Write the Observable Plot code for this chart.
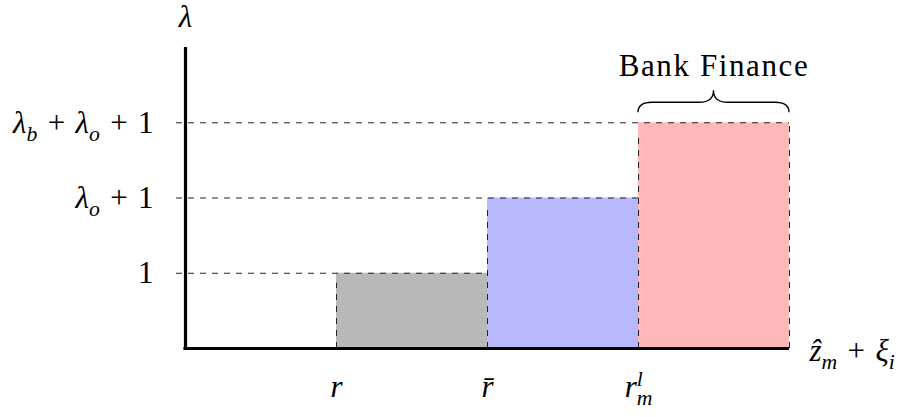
<!DOCTYPE html>
<html><head><meta charset="utf-8">
<script src="https://cdn.jsdelivr.net/npm/d3@7"></script>
<script src="https://cdn.jsdelivr.net/npm/@observablehq/plot@0.6"></script>
<style>body{margin:0;background:#fff}</style>
</head><body><div id="chart"></div>
<script>
// ---- data ----
const edges = [1, 2, 3, 4];                       // r, r̄, r_m^l, end of last bar
const xTickLabels = ["r", "r\u0304", "r_{m}^{l}"];
const levels = [1, 2, 3];
const levelLabels = ["1", "λ_{o}\u2004+\u20041", "λ_{b}\u2004+\u2004λ_{o}\u2004+\u20041"];
const barColors = ["#b8b8b8", "#b8b8ff", "#ffb8b8"];
const yAxisLabel = "λ";
const xAxisLabel = "\u1E91_{m}\u2004+\u2004ξ_{i}";
const braceLabel = "Bank Finance";
const braceSpan = [3, 4];

const FS = 31;
const FF = "Liberation Serif";
const bars = levels.map((v, i) => ({x1: edges[i], x2: edges[i + 1], y: v, fill: barColors[i], label: xTickLabels[i]}));
const last = bars[bars.length - 1];
const dash = "6,6";
const dashColor = "#222";
const txt = {fontSize: FS, fontFamily: FF};

const braceMark = (index, scales) => {
  const x0 = scales.x(braceSpan[0]), x1 = scales.x(braceSpan[1]);
  const yb = scales.y(d3.max(levels)) - 10, yh = yb - 10, yt = yh - 12;
  const m = (x0 + x1) / 2, r = 14;
  const p = `M${x0},${yb} Q${x0},${yh} ${x0 + r},${yh} L${m - r},${yh} Q${m},${yh} ${m},${yt} Q${m},${yh} ${m + r},${yh} L${x1 - r},${yh} Q${x1},${yh} ${x1},${yb}`;
  const g = d3.create("svg:g");
  g.append("path").attr("d", p).attr("fill", "none").attr("stroke", "#000").attr("stroke-width", 1.3);
  return g.node();
};

const plot = Plot.plot({
  width: 904, height: 417,
  marginLeft: 185, marginRight: 115, marginTop: 47, marginBottom: 69,
  style: {fontFamily: FF, fontSize: FS + "px", background: "#fff"},
  x: {domain: [0, 4], axis: null},
  y: {domain: [0, 4], axis: null},
  marks: [
    Plot.rect(bars, {x1: "x1", x2: "x2", y1: 0, y2: "y", fill: d => d.fill}),
    Plot.ruleY(bars, {y: "y", x1: 0, x2: "x2", stroke: dashColor, strokeWidth: 1, strokeDasharray: dash, insetLeft: -9}),
    Plot.ruleX(bars, {x: "x1", y1: 0, y2: "y", stroke: dashColor, strokeWidth: 1, strokeDasharray: dash, insetBottom: -10}),
    Plot.ruleX([last], {x: "x2", y1: 0, y2: "y", stroke: dashColor, strokeWidth: 1, strokeDasharray: dash}),
    Plot.ruleX([0], {y1: 0, y2: 4, stroke: "#000", strokeWidth: 3.2}),
    Plot.ruleY([0], {x1: 0, x2: 4, stroke: "#000", strokeWidth: 3.2, insetLeft: -1.6}),
    Plot.text(levels, {x: 0, y: d => d, text: (d, i) => levelLabels[i], textAnchor: "end", dx: -32, ...txt}),
    Plot.text(bars, {x: "x1", y: 0, text: "label", dy: 39, ...txt}),
    Plot.text([yAxisLabel], {x: 0, y: 4, text: d => d, dy: -30, ...txt}),
    Plot.text([xAxisLabel], {x: 4, y: 0, text: d => d, textAnchor: "start", dx: 20, dy: 3, ...txt}),
    braceMark,
    Plot.text([braceLabel], {x: (braceSpan[0] + braceSpan[1]) / 2, y: d3.max(levels), text: d => d, dy: -57, ...txt})
  ]
});
document.getElementById("chart").appendChild(plot);

// ---- math-style formatting of labels (italic letters, sub/superscripts) ----
const isLetter = c => /[A-Za-zλξ\u1E91\u0300-\u036f]/.test(c);
function runs(s) {
  const out = []; let cur = "", curL = null;
  for (const c of s) {
    const l = isLetter(c);
    if (curL === null || l === curL) { cur += c; curL = l; }
    else { out.push([cur, curL]); cur = c; curL = l; }
  }
  if (cur) out.push([cur, curL]);
  return out;
}
plot.querySelectorAll("text").forEach(t => {
  t.style.fontFamily = FF;
  const s = t.textContent;
  if (s === braceLabel) { t.style.letterSpacing = "1.6px"; return; }
  const tokens = [...s.matchAll(/([_^])\{([^}]*)\}|([^_^]+)/g)];
  t.textContent = "";
  let shift = 0, prev = null, prevType = null;
  for (const tk of tokens) {
    if (tk[3]) {
      let first = true;
      for (const [str, l] of runs(tk[3])) {
        const ts = d3.select(t).append("tspan").text(str);
        if (l) ts.attr("font-style", "italic");
        if (first && shift) ts.attr("dy", -shift);
        first = false;
      }
      shift = 0; prevType = "n";
    } else {
      const type = tk[1];
      const target = type === "_" ? 0.26 * FS : -0.36 * FS;
      const ts = d3.select(t).append("tspan").text(tk[2]).attr("font-style", "italic").attr("font-size", 0.7 * FS);
      if (target - shift) ts.attr("dy", target - shift);
      if ((prevType === "_" || prevType === "^") && prevType !== type && prev) {
        ts.attr("dx", -prev.node().getComputedTextLength());
      }
      shift = target; prev = ts; prevType = type;
    }
  }
});
</script></body></html>
